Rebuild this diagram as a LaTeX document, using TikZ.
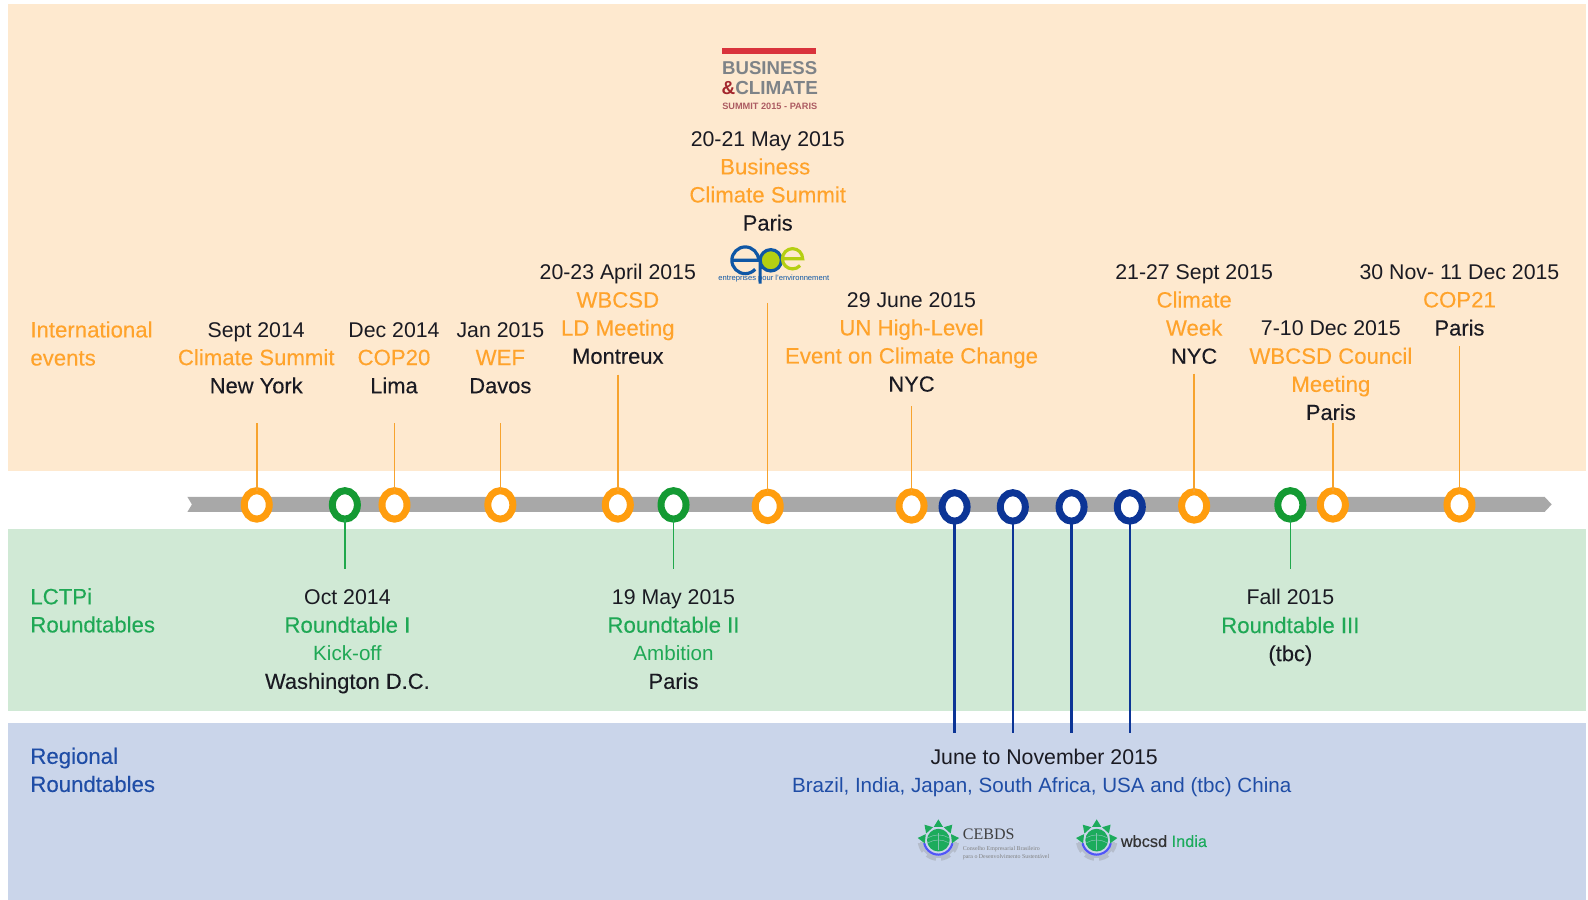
\documentclass[tikz,border=0pt]{standalone}
\usepackage{fontspec}
\setmainfont{Liberation Sans}
\newfontfamily\serifface{Liberation Serif}
\newfontfamily\medface[FakeBold=0.2]{Liberation Sans}
\usetikzlibrary{shapes.geometric}
\definecolor{bgO}{HTML}{FEE9CF}
\definecolor{bgG}{HTML}{D0E9D5}
\definecolor{bgB}{HTML}{CAD5EA}
\definecolor{txO}{HTML}{FFA32B}
\definecolor{txG}{HTML}{1FA855}
\definecolor{txB}{HTML}{1F4DA6}
\definecolor{txK}{HTML}{1A1A22}
\definecolor{dotO}{HTML}{FF9D0E}
\definecolor{dotG}{HTML}{149A33}
\definecolor{dotB}{HTML}{0C3596}
\definecolor{barG}{HTML}{A8A8A8}
\definecolor{lineO}{HTML}{F7A32E}
\definecolor{lineG}{HTML}{20A84C}
\definecolor{logoGray}{HTML}{7E8388}
\definecolor{logoRed}{HTML}{D9333C}
\definecolor{epeB}{HTML}{0F57A5}
\definecolor{epeL}{HTML}{B5CF12}
\definecolor{leafG}{HTML}{1CAB5C}
\newcommand\medsize{\medface\fontsize{22.2}{28.1}\selectfont}
\newcommand\Ol[1]{{\medsize\color{txO}\strut #1}}
\newcommand\Gl[1]{{\medsize\color{txG}\strut #1}}
\newcommand\Gs[1]{{\fontsize{20.6}{28.1}\selectfont\color{txG}\strut #1}}
\newcommand\Bl[1]{{\medsize\color{txB}\strut #1}}
\newcommand\Bs[1]{{\fontsize{20.6}{28.1}\selectfont\color{txB}\strut #1}}
\newcommand\Kl[1]{{\color{txK}\strut #1}}
\newcommand\Pl[1]{{\medface\fontsize{21.9}{28.1}\selectfont\color{txK}\strut #1}}
\newcommand\leafmark[2]{%
  \begin{scope}[shift={(#1,#2)}]
    \begin{scope}
      \clip (-24,2) rectangle (24,24);
      \fill[gray!28!bgB] (0,0) circle (20.5);
      \foreach \a in {0,45,...,315}{
        \fill[bgB,rotate=\a] (-2.5,-21) rectangle (2.5,-18);
      }
    \end{scope}
    \fill[bgB] (0,0) circle (15.5);
    \draw[line width=2.2pt,blue!60!bgB] (-14,3) arc[start angle=168,end angle=12,radius=14.3];
    \foreach \a in {0,42,84,-42,-84}{
      \fill[leafG,rotate=\a] (-4.6,-13) -- (0,-20.5) -- (4.6,-13) -- cycle;
    }
    \fill[leafG] (0,0) circle (11.2);
    \draw[bgB!60!leafG,line width=.5pt] (-10,-2.5) .. controls (-4,-6) and (4,-6) .. (10,-2.5);
    \draw[bgB!60!leafG,line width=.5pt] (-10,2.5) .. controls (-4,-1) and (4,-1) .. (10,2.5);
    \draw[bgB!60!leafG,line width=.5pt] (0,-7) -- (0,10);
  \end{scope}}
\tikzset{
  x=1.0128pt,y=-1.0128pt,
  lbl/.style={inner sep=0pt,outer sep=0pt,align=center,yshift=-2pt,font=\fontsize{21.3}{28.1}\selectfont},
  lblL/.style={lbl,align=left,anchor=west},
  dotbase/.style={ellipse,draw,fill=white,line width=7pt,minimum width=25pt,minimum height=28.5pt,inner sep=0pt,outer sep=0pt},
  dotO/.style={dotbase,draw=dotO},
  dotG/.style={dotbase,draw=dotG},
  dotB/.style={dotbase,draw=dotB},
  linkO/.style={draw=lineO,line width=1.5pt},
  linkG/.style={draw=lineG,line width=1.5pt},
  linkB/.style={draw=dotB,line width=2.6pt},
}
\begin{document}
\begin{tikzpicture}
\useasboundingbox (0,0) rectangle (1567.9,888.6);
\fill[white] (0,0) rectangle (1567.9,888.6);
% bands
\fill[bgO] (8,4) rectangle (1566,465.5);
\fill[bgG] (8,522.5) rectangle (1566,702);
\fill[bgB] (8,713.5) rectangle (1566,888.6);
% timeline
\fill[barG] (185,490.5) -- (1525,490.5) -- (1532,498) -- (1525,505.5) -- (185,505.5) -- (189.5,498) -- cycle;

% link ends
\coordinate (eA) at (253.5,418);
\coordinate (eB) at (389.5,418);
\coordinate (eC) at (494,418);
\coordinate (eD) at (610,370);
\coordinate (eE) at (758,299);
\coordinate (eF) at (900,401);
\coordinate (eG) at (1179,369);
\coordinate (eH) at (1316,418);
\coordinate (eI) at (1441,342);
\coordinate (eJ) at (340.5,562);
\coordinate (eK) at (665,562);
\coordinate (eL) at (1274,562);
\coordinate (eM) at (942.5,724);
\coordinate (eN) at (1000,724);
\coordinate (eO) at (1058,724);
\coordinate (eP) at (1115.5,724);

% markers
\node[dotO] (dA) at (253.5,498.5) {};
\node[dotG] (dJ) at (340.5,498.5) {};
\node[dotO] (dB) at (389.5,498.5) {};
\node[dotO] (dC) at (494,498.5) {};
\node[dotO] (dD) at (610,498.5) {};
\node[dotG] (dK) at (665,498.5) {};
\node[dotO] (dE) at (758,500) {};
\node[dotO] (dF) at (900,499.5) {};
\node[dotB] (dM) at (942.5,500.5) {};
\node[dotB] (dN) at (1000,500.5) {};
\node[dotB] (dO) at (1058,500.5) {};
\node[dotB] (dP) at (1115.5,500.5) {};
\node[dotO] (dG) at (1179,499.5) {};
\node[dotG] (dL) at (1274,498.5) {};
\node[dotO] (dH) at (1316,498.5) {};
\node[dotO] (dI) at (1441,498.5) {};

% connectors
\path[linkO] (eA) -- (dA.north);
\path[linkO] (eB) -- (dB.north);
\path[linkO] (eC) -- (dC.north);
\path[linkO] (eD) -- (dD.north);
\path[linkO] (eE) -- (dE.north);
\path[linkO] (eF) -- (dF.north);
\path[linkO] (eG) -- (dG.north);
\path[linkO] (eH) -- (dH.north);
\path[linkO] (eI) -- (dI.north);
\path[linkG] (dJ.south) -- (eJ);
\path[linkG] (dK.south) -- (eK);
\path[linkG] (dL.south) -- (eL);
\path[linkB] (dM.south) -- (eM);
\path[linkB] (dN.south) -- (eN);
\path[linkB] (dO.south) -- (eO);
\path[linkB] (dP.south) -- (eP);

% row labels
\node[lblL] (rowI) at (30,339.5) {\Ol{International}\\\Ol{events}};
\node[lblL] (rowL) at (30,603) {\Gl{LCTPi}\\\Gl{Roundtables}};
\node[lblL] (rowR) at (30,760.5) {\Bl{Regional}\\\Bl{Roundtables}};

% international events
\node[lbl] (tA) at (253,353) {\Kl{Sept 2014}\\\Ol{Climate Summit}\\\Pl{New York}};
\node[lbl] (tB) at (389,353) {\Kl{Dec 2014}\\\Ol{COP20}\\\Pl{Lima}};
\node[lbl] (tC) at (494,353) {\Kl{Jan 2015}\\\Ol{WEF}\\\Pl{Davos}};
\node[lbl] (tD) at (610,310) {\Kl{20-23 April 2015}\\\Ol{WBCSD}\\\Ol{LD Meeting}\\\Pl{Montreux}};
\node[lbl] (tE) at (758,178.5) {\Kl{20-21 May 2015}\\\Ol{Business\hspace*{5pt}}\\\Ol{Climate Summit}\\\Pl{Paris}};
\node[lbl] (tF) at (900,337.5) {\Kl{29 June 2015}\\\Ol{UN High-Level}\\\Ol{Event on Climate Change}\\\Pl{NYC}};
\node[lbl] (tG) at (1179,310) {\Kl{21-27 Sept 2015}\\\Ol{Climate}\\\Ol{Week}\\\Pl{NYC}};
\node[lbl] (tH) at (1314,365.5) {\Kl{7-10 Dec 2015}\\\Ol{WBCSD Council}\\\Ol{Meeting}\\\Pl{Paris}};
\node[lbl] (tI) at (1441,296) {\Kl{30 Nov- 11 Dec 2015}\\\Ol{COP21}\\\Pl{Paris}};

% LCTPi
\node[lbl] (tJ) at (343,631) {\Kl{Oct 2014}\\\Gl{Roundtable I}\\\Gs{Kick-off}\\\Pl{Washington D.C.}};
\node[lbl] (tK) at (665,631) {\Kl{19 May 2015}\\\Gl{Roundtable II}\\\Gs{Ambition}\\\Pl{Paris}};
\node[lbl] (tL) at (1274,617.5) {\Kl{Fall 2015}\\\Gl{Roundtable III}\\\Pl{(tbc)}};

% regional
\node[lbl] (tM) at (1028.5,761) {\Kl{\hspace*{5pt}June to November 2015}\\\Bs{Brazil, India, Japan, South Africa, USA and (tbc) China}};

% Business & Climate logo
\fill[logoRed] (713,47.5) rectangle (806,53);
\node[inner sep=0pt,text=logoGray] (bcA) at (760,67.5) {\fontsize{18.6}{20}\selectfont\bfseries BUSINESS};
\node[inner sep=0pt,text=logoGray] (bcB) at (760,86.5) {\fontsize{18.9}{20}\selectfont\bfseries{\color{logoRed!75!black}\&}CLIMATE};
\node[inner sep=0pt,text=logoRed!50!logoGray] (bcC) at (760,105) {\fontsize{9.2}{10}\selectfont\bfseries SUMMIT 2015 - PARIS};

% epe logo
\draw[epeB,line width=3.2pt] (722.5,257) -- (749,257) arc[start angle=0,end angle=-318,radius=13.2];
\fill[epeL] (761,257) circle (10.5);
\draw[epeB,line width=3.2pt] (750.5,280) -- (750.5,257) arc[start angle=180,end angle=540,radius=10.5];
\draw[epeL,line width=3.2pt] (772.5,255.5) -- (792.5,255.5) arc[start angle=0,end angle=-318,radius=10];
\node[inner sep=0pt,text=epeB] (epeT) at (764,275.5) {\fontsize{7.6}{8}\selectfont entreprises pour l'environnement};

% CEBDS logo
\leafmark{926.5}{829.5}
\node[inner sep=0pt,text=black!75,anchor=west] (ceA) at (950.5,823.5) {\serifface\fontsize{16}{17}\selectfont CEBDS};
\node[inner sep=0pt,text=black!50,anchor=west,align=left,font=\serifface\fontsize{5.9}{8}\selectfont] (ceB) at (950.5,842) {Conselho Empresarial Brasileiro\\para o Desenvolvimento Sustentável};

% wbcsd logo
\leafmark{1082.8}{829.5}
\node[inner sep=0pt,anchor=west] (wb) at (1106.5,830.5) {\medface\fontsize{16.3}{17}\selectfont{\color{black!80}wbcsd} {\color{leafG}India}};
\end{tikzpicture}
\end{document}
